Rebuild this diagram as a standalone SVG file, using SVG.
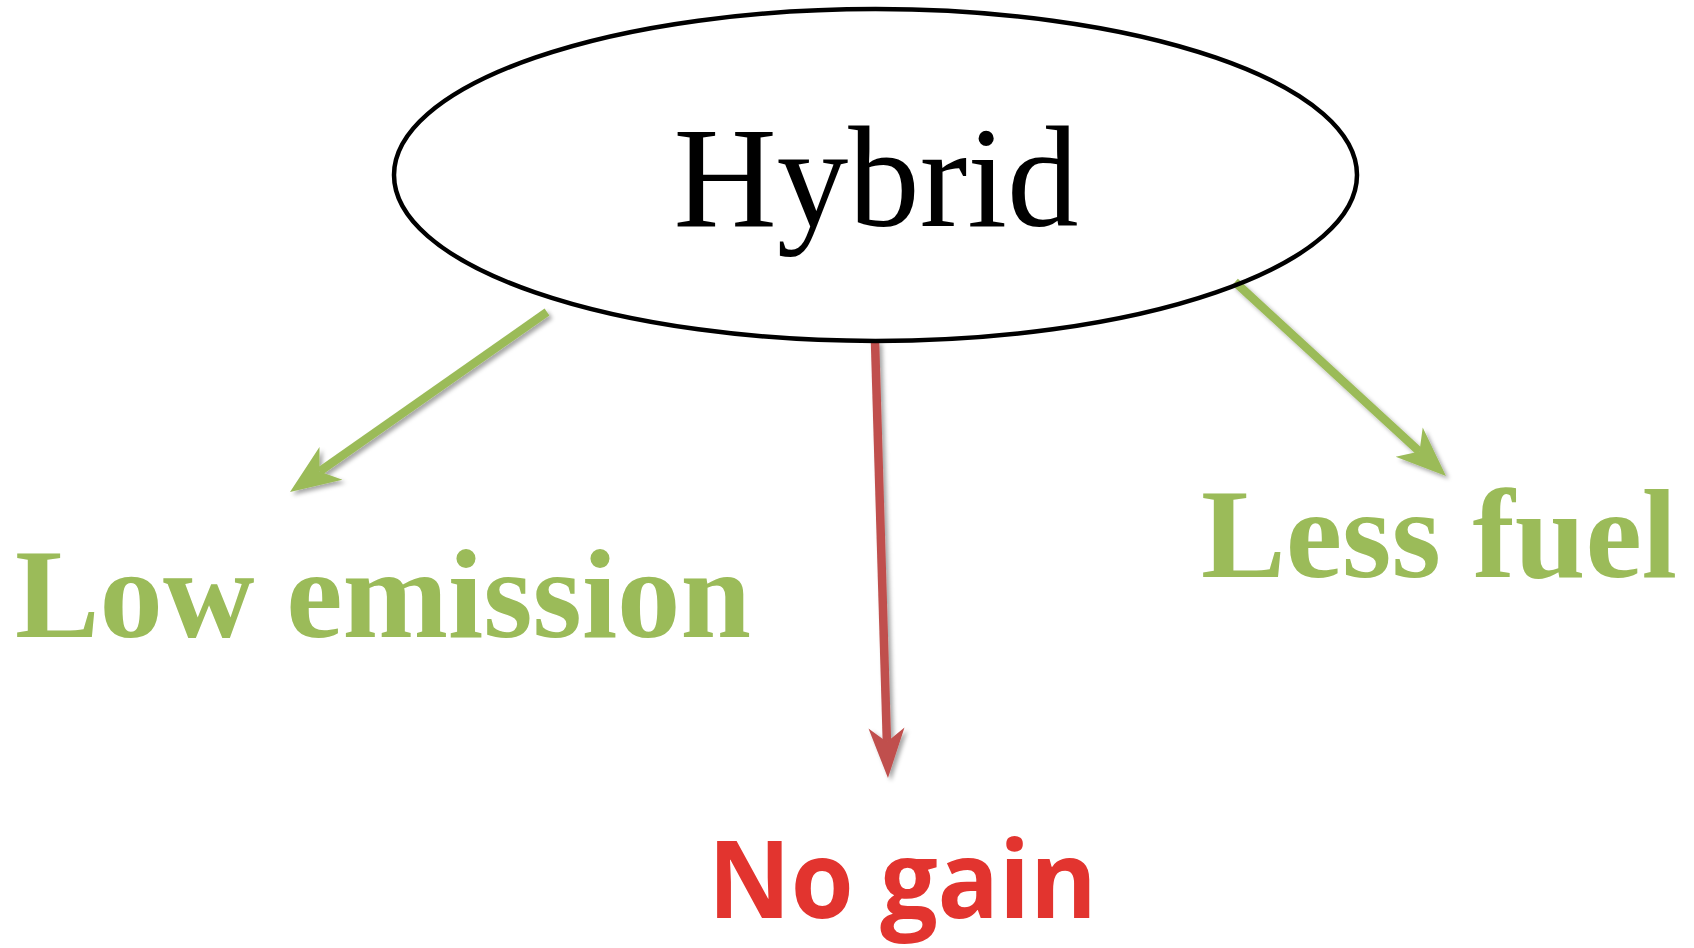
<svg xmlns="http://www.w3.org/2000/svg" width="1694" height="948" viewBox="0 0 1694 948">
<style>
.lbl-serif{font-family:"Liberation Serif","Times New Roman",serif;}
.green{fill:#9bbb59;font-weight:bold;}
.conn{fill:none;stroke-width:8.5;stroke-linecap:butt;}
</style>
<defs>
<filter id="sh" x="-20%" y="-20%" width="140%" height="140%">
<feDropShadow dx="3" dy="3" stdDeviation="2" flood-color="#000" flood-opacity="0.35"/>
</filter>
<marker id="hg" markerUnits="userSpaceOnUse" markerWidth="60" markerHeight="50" viewBox="0 -25 60 50" refX="14" refY="0" orient="auto" overflow="visible">
<path d="M50,0 L0,-20 L14,0 L0,20 Z" fill="#9bbb59"/>
</marker>
<marker id="hr" markerUnits="userSpaceOnUse" markerWidth="60" markerHeight="50" viewBox="0 -25 60 50" refX="14" refY="0" orient="auto" overflow="visible">
<path d="M50,0 L0,-18 L14,0 L0,18 Z" fill="#c0504d"/>
</marker>
</defs>
<rect width="1694" height="948" fill="#fff"/>
<g id="connectors" filter="url(#sh)">
<line class="conn" x1="547" y1="312" x2="319.5" y2="471.4" stroke="#9bbb59" marker-end="url(#hg)"/>
<line class="conn" x1="875" y1="341" x2="886.9" y2="742" stroke="#c0504d" marker-end="url(#hr)"/>
<line class="conn" x1="1235" y1="282" x2="1419.5" y2="451.6" stroke="#9bbb59" marker-end="url(#hg)"/>
</g>
<g id="hybrid">
<ellipse cx="875.5" cy="175" rx="481.5" ry="166" fill="none" stroke="#000" stroke-width="4.5"/>
<text class="lbl-serif" x="876" y="226" font-size="143" text-anchor="middle" fill="#000">Hybrid</text>
</g>
<g id="low-emission">
<text class="lbl-serif green" x="15" y="637" font-size="126" textLength="736" lengthAdjust="spacingAndGlyphs">Low emission</text>
</g>
<g id="less-fuel">
<text class="lbl-serif green" x="1201" y="577" font-size="126" textLength="476" lengthAdjust="spacingAndGlyphs">Less fuel</text>
</g>
<g id="no-gain">
<text x="708" y="918" font-family="'Open Sans','Noto Sans',sans-serif" font-weight="bold" font-size="108" fill="#e2342f" textLength="389" lengthAdjust="spacingAndGlyphs">No gain</text>
</g>
</svg>
